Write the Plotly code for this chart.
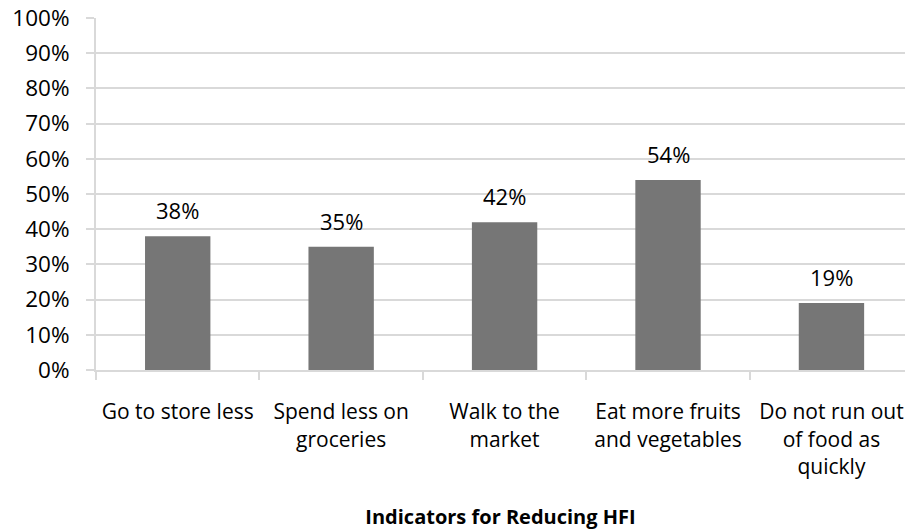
import plotly.graph_objects as go

categories = [
    "Go to store less",
    "Spend less on<br>groceries",
    "Walk to the<br>market",
    "Eat more fruits<br>and vegetables",
    "Do not run out<br>of food as<br>quickly",
]
shares = [0.38, 0.35, 0.42, 0.54, 0.19]
x_title = "Indicators for Reducing HFI"

FONT = "Open Sans"
GRID = "#d9d9d9"
BAR = "#767676"

fig = go.Figure(
    go.Bar(
        x=categories,
        y=shares,
        width=0.4,
        marker=dict(color=BAR, line=dict(width=0)),
        hoverinfo="skip",
    )
)

# value labels sitting above each bar
for cat, val in zip(categories, shares):
    fig.add_annotation(
        x=cat, y=val, xref="x", yref="y",
        text=f"{val:.0%}", showarrow=False,
        yanchor="bottom", yshift=9,
        font=dict(family=FONT, size=22, color="#000000"),
    )

fig.update_layout(
    width=905, height=532,
    margin=dict(l=96, r=0, t=18, b=162),
    paper_bgcolor="white", plot_bgcolor="white",
    showlegend=False,
    font=dict(family=FONT, color="#000000"),
    xaxis=dict(
        range=[-0.5, 4.45],
        showline=True, linecolor=GRID, linewidth=2,
        showgrid=False,
        ticks="outside", tickson="boundaries", ticklen=8,
        tickcolor=GRID, tickwidth=2,
        tickfont=dict(family=FONT, size=21, color="#000000"),
        ticklabelstandoff=22,
        title=dict(text=f"<b>{x_title}</b>",
                   font=dict(family=FONT, size=20, color="#000000"),
                   standoff=31),
    ),
    yaxis=dict(
        range=[0, 1], dtick=0.1, tickformat=".0%",
        showline=True, linecolor=GRID, linewidth=2,
        showgrid=True, gridcolor=GRID, gridwidth=2,
        zeroline=False,
        ticks="outside", ticklen=8, tickcolor=GRID, tickwidth=2,
        tickfont=dict(family=FONT, size=22.5, color="#000000"),
        ticklabelstandoff=12,
    ),
)

fig.write_html("out.html")
